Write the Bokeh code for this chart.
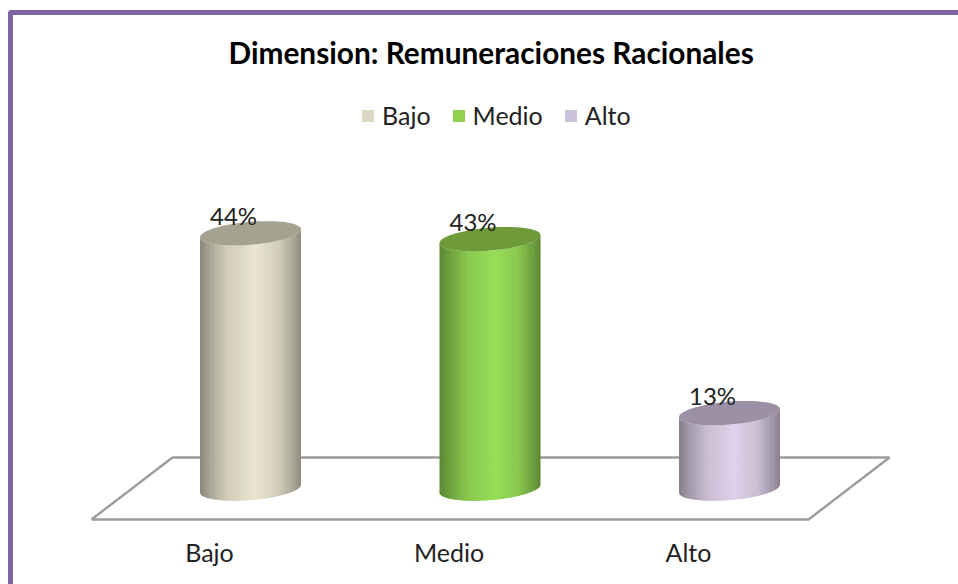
import numpy as np
from bokeh.core.properties import value
from bokeh.embed import file_html
from bokeh.models import (FixedTicker, Legend, LegendItem, LinearAxis, Range1d, Title)
from bokeh.plotting import figure
from bokeh.resources import INLINE

TITLE = "Dimension: Remuneraciones Racionales"
categories = ["Bajo", "Medio", "Alto"]
values = [44, 43, 13]
value_labels = ["44%", "43%", "13%"]
legend_colors = ["#DDD9C3", "#92D050", "#CCC1DA"]
body_colors = ["#EAE5CF", "#98DE57", "#DFD2EA"]
top_colors = ["#A5A38F", "#6E9A3A", "#9C90A6"]
FONT = "Lato"
TXT = "#222222"

# layout, in picture pixels
LEFT, TOP = 13, 15         # canvas origin, inside the CSS frame
W, H = 958 - LEFT, 584 - TOP
EXTRA = 5                  # the plot's frame runs 5 px past the size it is given
F_TOP, F_BOT = 70, 530
X0, DX = 250.0, 239.5      # x of first category, spacing
Y0, DY = 488.0, 5.8        # y of value 0, pixels per percent


def data_x(px):
    return (px - X0) / DX


def data_y(py):
    return (Y0 - py) / DY


x_end = data_x(958 + EXTRA)
p = figure(width=W, height=H, output_backend="svg", toolbar_location=None,
           x_range=Range1d(data_x(LEFT), x_end),
           y_range=Range1d(data_y(F_BOT), data_y(F_TOP)),
           x_axis_location=None, y_axis_location=None,
           min_border_left=0, min_border_right=0,
           min_border_top=F_TOP - TOP, min_border_bottom=TOP + H + EXTRA - F_BOT)
p.outline_line_color = None
p.background_fill_color = None
p.border_fill_color = "white"
p.grid.visible = False
p.styles = {"margin-left": "8px", "margin-top": "10px",
            "border-left": "5px solid #8064A2", "border-top": "5px solid #8064A2",
            "border-top-left-radius": "4px", "box-sizing": "content-box"}

t = Title(text=TITLE, align="left", text_font=FONT, text_font_size="29.8px",
          text_font_style="bold", text_color="black", offset=228 - LEFT, standoff=2)
p.add_layout(t, "above")

# floor
fx = [data_x(v) for v in (91, 808, 889, 172, 91)]
fy = [data_y(v) for v in (519, 519, 457, 457, 519)]
p.line(fx, fy, line_color="#9C9C9C", line_width=2.4)

# cylinders
A = 50.5 / DX
TILT = 4.0 / DY
B = 11.5 / DY
SHADE_U = [-1.0, -0.8, -0.45, 0.1, 0.55, 0.85, 1.0]
SHADE_F = [0.60, 0.72, 0.90, 1.00, 0.90, 0.72, 0.60]


def mul(col, f):
    rgb = [int(col[i:i + 2], 16) for i in (1, 3, 5)]
    return "#%02x%02x%02x" % tuple(int(round(c * f)) for c in rgb)


items = []
ts = np.linspace(0, 2 * np.pi, 121)
for i, (cat, v) in enumerate(zip(categories, values)):
    r = p.patch(i + A * np.cos(ts), TILT * np.cos(ts) + B * np.sin(ts),
                fill_color=legend_colors[i], line_color=None)
    items.append(LegendItem(label=cat, renderers=[r]))
    us = np.linspace(-1, 1, 61)
    xs, ys, cs = [], [], []
    for u0, u1 in zip(us[:-1], us[1:]):
        uu = np.linspace(u0, min(u1 + 0.012, 1), 4)
        low = TILT * uu - B * np.sqrt(1 - uu ** 2)
        xs.append(list(i + A * uu) + list(i + A * uu[::-1]))
        ys.append(list(low) + list((low + v)[::-1]))
        cs.append(mul(body_colors[i], float(np.interp((u0 + u1) / 2, SHADE_U, SHADE_F))))
    p.patches(xs, ys, fill_color=cs, line_color=None)
    p.patch(i + A * np.cos(ts), v + TILT * np.cos(ts) + B * np.sin(ts),
            fill_color=top_colors[i], line_color=None)

# value labels
p.text(x=list(range(3)), y=values, text=value_labels, text_align="center",
       text_baseline="middle", x_offset=-17, y_offset=-18,
       text_font=value(FONT), text_font_size="24px", text_color=TXT)

# category axis: its labels sit 41 px left of the cylinders, as in the reference
SHIFT = 41 / DX
p.extra_x_ranges["cat"] = Range1d(data_x(LEFT) + SHIFT, x_end + SHIFT)
ax = LinearAxis(x_range_name="cat", ticker=FixedTicker(ticks=[0, 1, 2]),
                major_label_overrides={i: c for i, c in enumerate(categories)})
ax.axis_line_color = None
ax.major_tick_line_color = None
ax.minor_tick_line_color = None
ax.major_label_text_font = FONT
ax.major_label_text_font_size = "25px"
ax.major_label_text_color = TXT
ax.major_label_standoff = 0
p.add_layout(ax, "below")

legend = Legend(items=items, orientation="horizontal", location=(347, 400),
                glyph_width=15, glyph_height=15, label_standoff=7, spacing=20,
                padding=0, margin=0, border_line_color=None, background_fill_alpha=0,
                label_text_font=FONT, label_text_font_size="25px", label_text_color=TXT,
                label_height=20)
p.add_layout(legend)

open("out.html", "w").write(file_html(p, INLINE))
